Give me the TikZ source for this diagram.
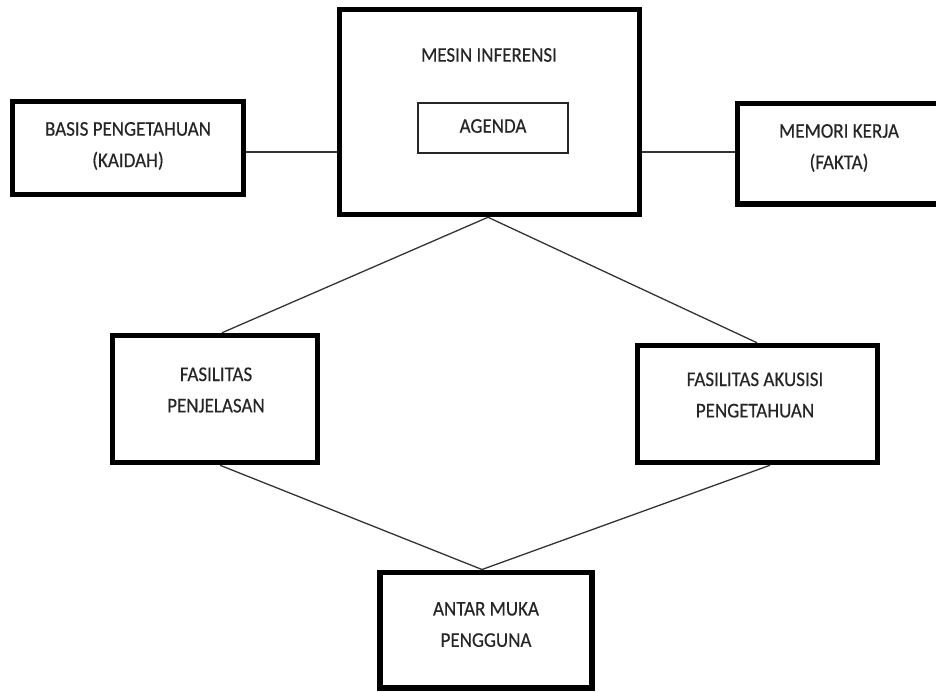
\documentclass[tikz,border=0pt]{standalone}
\usepackage{fontspec}
\setmainfont{Carlito}
\newfontfamily\labelfont[FakeBold=0.35]{Carlito}
\usetikzlibrary{backgrounds}
\begin{document}
\begin{tikzpicture}[x=1pt,y=-1pt,
  box/.style={draw=black,fill=white,line width=5.5pt,inner sep=0pt},
  thinbox/.style={draw=black!85,fill=white,line width=1.1pt,inner sep=0pt},
  txt/.style={align=center,inner sep=0pt,text=black!85,yscale=1.1,transform shape,
    font=\labelfont\fontsize{19}{28.5}\selectfont},
  link/.style={draw=black!80,line width=1.3pt}]
\useasboundingbox (0,0) rectangle (936,691);
\clip (0,0) rectangle (936,691);

% component boxes
\node[box,minimum width=231pt,minimum height=93pt] (basis) at (128,148) {};
\node[box,minimum width=300pt,minimum height=205pt] (mesin) at (489.5,112) {};
\node[thinbox,minimum width=150pt,minimum height=50pt] (agenda) at (493,128) {};
\node[box,minimum width=207pt,minimum height=100.5pt] (memori) at (841,153.75) {};
\node[box,minimum width=205pt,minimum height=127pt] (pen) at (215,399) {};
\node[box,minimum width=240pt,minimum height=117pt] (aku) at (757.5,404) {};
\node[box,minimum width=212pt,minimum height=115.5pt] (antar) at (486,630) {};

% labels
\node[txt] (basistxt) at (128,146) {BASIS PENGETAHUAN\\(KAIDAH)};
\node[txt] (mesintxt) at (489,55) {MESIN INFERENSI};
\node[txt] (agendatxt) at (493,126) {AGENDA};
\node[txt] (memoritxt) at (839,148) {MEMORI KERJA\\(FAKTA)};
\node[txt] (pentxt) at (216,390) {FASILITAS\\PENJELASAN};
\node[txt] (akutxt) at (755,395) {FASILITAS AKUSISI\\PENGETAHUAN};
\node[txt] (antartxt) at (486,624.5) {ANTAR MUKA\\PENGGUNA};

% connectors
\begin{scope}[on background layer]
\draw[link] (basis.east |- 0,152) -- (mesin.west |- 0,152);
\draw[link] (mesin.east |- 0,152) -- (memori.west |- 0,152);
\draw[link] (mesin.south -| 488,0) -- (pen.north -| 222,0);
\draw[link] (mesin.south -| 488,0) -- (aku.north -| 757,0);
\draw[link] (pen.south -| 220,0) -- (antar.north -| 482,0);
\draw[link] (aku.south -| 770,0) -- (antar.north -| 482,0);
\end{scope}
\end{tikzpicture}
\end{document}
